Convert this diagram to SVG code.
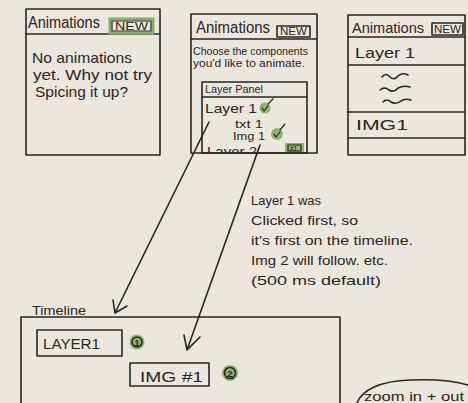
<svg xmlns="http://www.w3.org/2000/svg" width="468" height="403" viewBox="0 0 468 403">
<style>
.bg{fill:#ebe6de}
.ln{fill:none;stroke:#2b2521;stroke-width:1.6;stroke-linecap:round;stroke-linejoin:round}
.th{stroke-width:1.2}
.t{font-family:"Liberation Sans",Arial,sans-serif;fill:#2b2521}
.gr{fill:none;stroke:#86ad6a;stroke-width:3}
.gf{fill:#8db673}
</style>
<defs>
<clipPath id="lp"><rect x="202" y="82" width="106" height="70"/></clipPath>
</defs>
<rect class="bg" x="0" y="0" width="468" height="403"/>

<g id="panel-empty">
<rect class="ln" x="26" y="9" width="134" height="146"/>
<line class="ln" x1="26" y1="34" x2="160" y2="34"/>
<text class="t" x="28" y="28" font-size="16" textLength="72" lengthAdjust="spacingAndGlyphs">Animations</text>
<rect class="gr" x="110" y="19" width="43" height="14"/>
<rect class="ln th" x="112" y="21" width="39" height="10"/>
<text class="t" x="115" y="30" font-size="10" textLength="33" lengthAdjust="spacingAndGlyphs">NEW</text>
<text class="t" x="32" y="63" font-size="15" textLength="100" lengthAdjust="spacingAndGlyphs">No animations</text>
<text class="t" x="33" y="80" font-size="15" textLength="119" lengthAdjust="spacingAndGlyphs">yet. Why not try</text>
<text class="t" x="35" y="97" font-size="15" textLength="93" lengthAdjust="spacingAndGlyphs">Spicing it up?</text>
</g>

<g id="panel-choose">
<rect class="ln" x="191" y="14" width="126" height="139"/>
<line class="ln" x1="191" y1="39" x2="317" y2="39"/>
<text class="t" x="196" y="33" font-size="16" textLength="74" lengthAdjust="spacingAndGlyphs">Animations</text>
<rect class="ln" x="277" y="26" width="33" height="11"/>
<text class="t" x="280" y="35" font-size="10" textLength="27" lengthAdjust="spacingAndGlyphs">NEW</text>
<text class="t" x="193" y="55" font-size="10.5" textLength="115" lengthAdjust="spacingAndGlyphs">Choose the components</text>
<text class="t" x="193" y="67" font-size="10.5" textLength="112" lengthAdjust="spacingAndGlyphs">you'd like to animate.</text>
</g>

<g id="layer-panel">
<rect class="ln" x="202" y="82" width="105" height="71"/>
<line class="ln" x1="202" y1="97" x2="307" y2="97"/>
<text class="t" x="205" y="93" font-size="10" textLength="58" lengthAdjust="spacingAndGlyphs">Layer Panel</text>
<text class="t" x="205" y="113" font-size="13" textLength="52" lengthAdjust="spacingAndGlyphs">Layer 1</text>
<circle class="gf" cx="265" cy="108" r="5.5"/>
<path class="ln th" d="M262,108 l2,3 l4,-5 M268,104 l5,-5"/>
<text class="t" x="235" y="128" font-size="11" textLength="28" lengthAdjust="spacingAndGlyphs">txt 1</text>
<text class="t" x="233" y="140" font-size="11" textLength="32" lengthAdjust="spacingAndGlyphs">Img 1</text>
<circle class="gf" cx="277" cy="134" r="6"/>
<path class="ln th" d="M274,134 l2,3 l4,-5 M280,130 l5,-6"/>
<g clip-path="url(#lp)">
<text class="t" x="207" y="156" font-size="13" textLength="50" lengthAdjust="spacingAndGlyphs">Layer 2</text>
</g>
<rect class="gf" x="285" y="143" width="19" height="9"/>
<rect class="ln th" x="288" y="145" width="13" height="6"/>
<text class="t" x="290" y="150.5" font-size="6.5">#1</text>
</g>

<g id="panel-list">
<rect class="ln" x="348" y="15" width="117" height="140"/>
<line class="ln" x1="348" y1="37" x2="465" y2="37"/>
<text class="t" x="352" y="33" font-size="15" textLength="72" lengthAdjust="spacingAndGlyphs">Animations</text>
<rect class="ln" x="432" y="23" width="31" height="12"/>
<text class="t" x="434" y="33" font-size="10" textLength="27" lengthAdjust="spacingAndGlyphs">NEW</text>
<text class="t" x="355" y="58" font-size="15" textLength="60" lengthAdjust="spacingAndGlyphs">Layer 1</text>
<line class="ln" x1="348" y1="65" x2="465" y2="65"/>
<path class="ln" d="M382,77 q4,-5 8,0 q4,4 8,-1 q5,-4 10,-1"/>
<path class="ln" d="M380,90 q5,-4 9,0 q5,3 9,-2 q6,-3 12,-1"/>
<path class="ln" d="M383,102 q4,-4 8,0 q5,3 10,-1 q4,-3 10,-1"/>
<line class="ln" x1="348" y1="112" x2="465" y2="112"/>
<text class="t" x="356" y="130" font-size="15" textLength="52" lengthAdjust="spacingAndGlyphs">IMG1</text>
<line class="ln" x1="348" y1="138" x2="465" y2="138"/>
</g>

<g id="note">
<text class="t" x="251" y="205" font-size="13" textLength="70" lengthAdjust="spacingAndGlyphs">Layer 1 was</text>
<text class="t" x="251" y="225" font-size="13" textLength="107" lengthAdjust="spacingAndGlyphs">Clicked first, so</text>
<text class="t" x="251" y="245" font-size="13" textLength="162" lengthAdjust="spacingAndGlyphs">it's first on the timeline.</text>
<text class="t" x="251" y="265" font-size="13" textLength="137" lengthAdjust="spacingAndGlyphs">Img 2 will follow. etc.</text>
<text class="t" x="251" y="285" font-size="13" textLength="130" lengthAdjust="spacingAndGlyphs">(500 ms default)</text>
</g>

<g id="timeline">
<text class="t" x="32" y="315" font-size="13" textLength="54" lengthAdjust="spacingAndGlyphs">Timeline</text>
<path class="ln" d="M21,403 L21,317 L340,317 L340,403"/>
</g>

<g id="tl-layer1">
<rect class="ln" x="37" y="330" width="85" height="26"/>
<text class="t" x="43" y="349" font-size="14" textLength="57" lengthAdjust="spacingAndGlyphs">LAYER1</text>
<circle class="gf" cx="137" cy="342" r="7.5"/>
<circle class="ln" cx="137" cy="342" r="5"/>
<text class="t" x="137" y="345.5" font-size="9" font-weight="bold" text-anchor="middle">1</text>
</g>

<g id="tl-img1">
<rect class="ln" x="130" y="363" width="79" height="23"/>
<text class="t" x="140" y="382" font-size="14" textLength="63" lengthAdjust="spacingAndGlyphs">IMG #1</text>
<circle class="gf" cx="230" cy="373" r="8"/>
<circle class="ln" cx="230" cy="373" r="5.5"/>
<text class="t" x="230" y="376.5" font-size="9.5" font-weight="bold" text-anchor="middle">2</text>
</g>

<g id="bubble">
<path class="ln" d="M357,403 C362,390 380,381 410,380 C435,379 455,381 468,385"/>
<text class="t" x="364" y="401" font-size="13" textLength="100" lengthAdjust="spacingAndGlyphs">zoom in + out</text>
</g>

<g id="connectors">
<path class="ln" d="M209,122 L115,313 M113,300 L115,313 L127,306"/>
<path class="ln" d="M260,145 L187,350 M184,335 L187,350 L200,337"/>
</g>
</svg>
